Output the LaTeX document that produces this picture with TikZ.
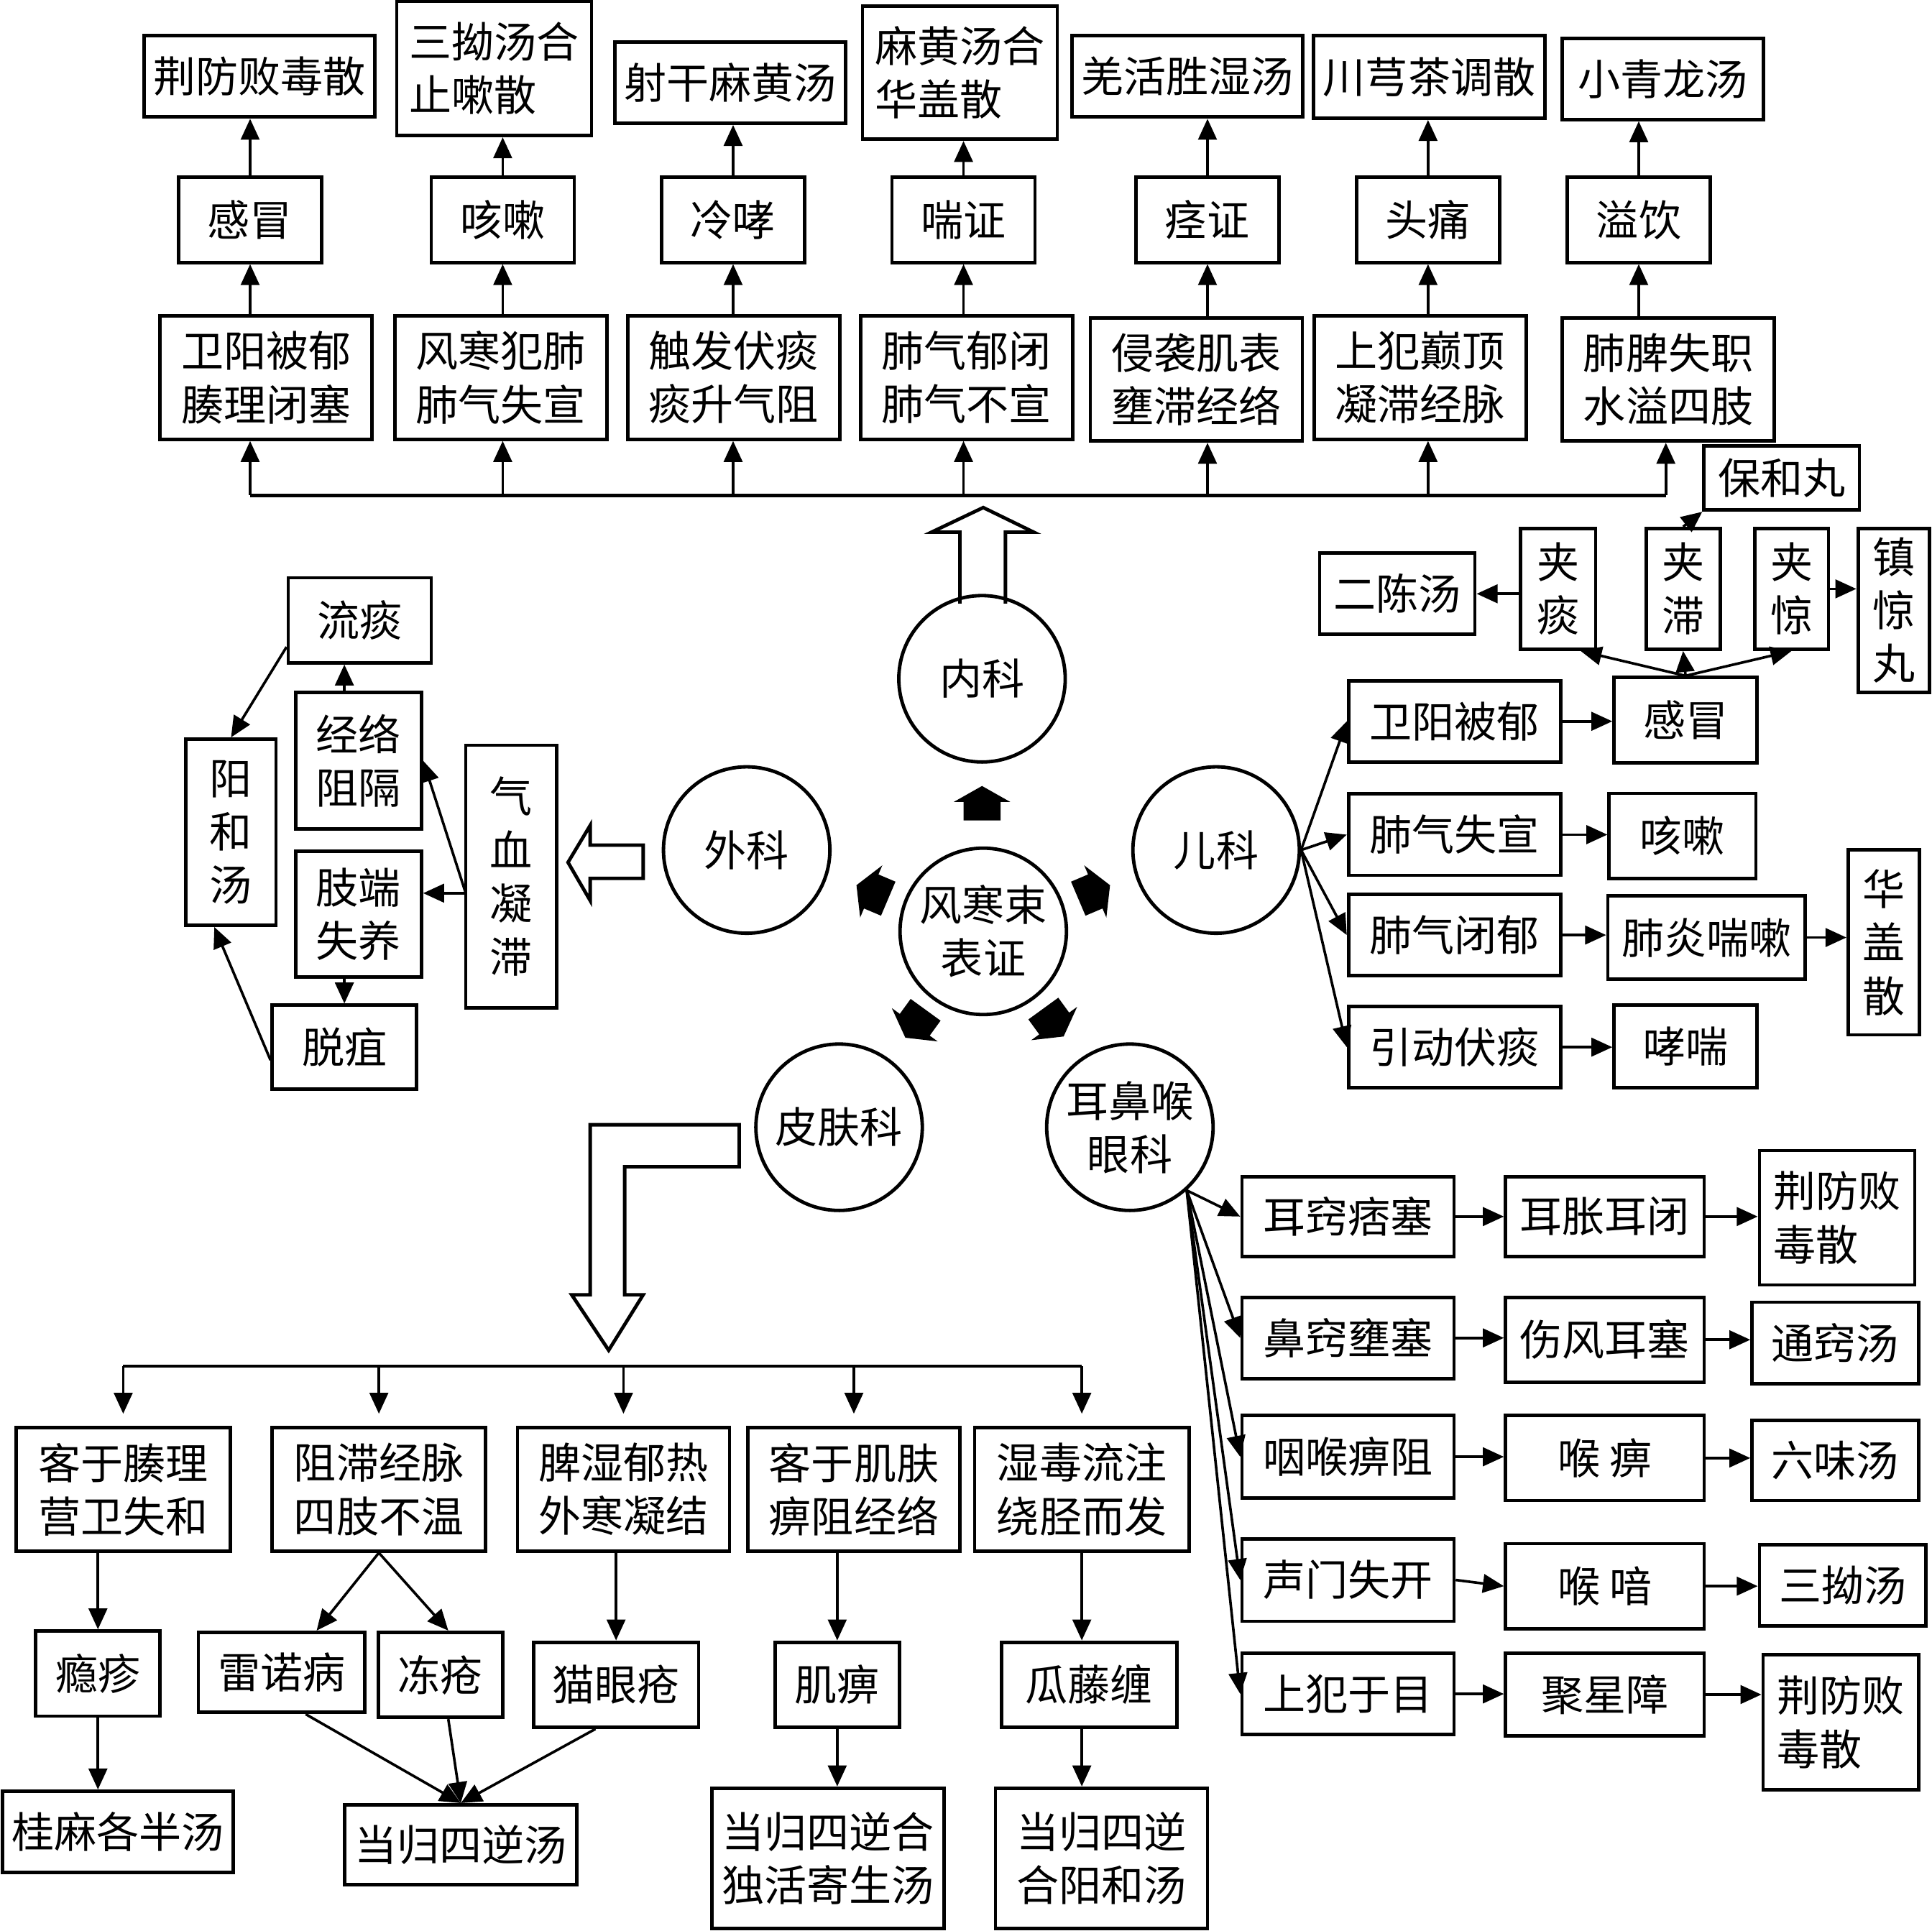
\documentclass[tikz,border=0pt]{standalone}
\usepackage{fontspec}
\setmainfont{Noto Sans CJK SC}
\usetikzlibrary{arrows.meta}

\newcommand{\housearrow}[3]{\fill[shift={(#1,#2)},rotate=#3] (-14,-15) -- (1,-15) -- (1,-23) -- (14,0) -- (1,23) -- (1,15) -- (-14,15) -- cycle;}

\begin{document}
\begin{tikzpicture}[x=0.01cm, y=-0.01cm, >={Triangle[length=1.7mm, width=1.5mm]}]
        \tikzstyle{every node}=[font=\fontsize{9.8}{12.3}\selectfont, inner sep=0pt, align=center]
        \tikzstyle{box}=[draw, line width=0.8pt]
        \tikzstyle{duo}=[box, minimum width=11.6mm, minimum height=6.9mm]
        \tikzstyle{big}=[box, minimum width=17.2mm, minimum height=10mm]
        \tikzstyle{row}=[box, minimum width=17.2mm, minimum height=6.6mm]
        \tikzstyle{ke}=[draw, circle, line width=0.8pt, minimum size=13.5mm]
        \tikzstyle{arr}=[->, line width=0.6pt]
        \tikzstyle{hollow}=[draw, fill=white, line width=0.8pt]
        \tikzset{wd/.style={minimum width=#1mm}, ht/.style={minimum height=#1mm}}
        \useasboundingbox (0,0) rectangle (1568,1567);

        \node[box, wd=18.7, ht=6.6] (f1) at (210.5,62) {荆防败毒散};
        \node[box, wd=15.8, ht=10.9, align=left] (f2) at (401,55.5) {三拗汤合\\止嗽散};
        \node[box, wd=18.7, ht=6.6] (f3) at (592.5,67) {射干麻黄汤};
        \node[box, wd=15.8, ht=10.8, align=left] (f4) at (779,59) {麻黄汤合\\华盖散};
        \node[box, wd=18.7, ht=6.6] (f5) at (963.5,62) {羌活胜湿汤};
        \node[box, wd=18.8, ht=6.7] (f6) at (1160,62.5) {川芎茶调散};
        \node[box, wd=16.3, ht=6.6] (f7) at (1349.5,64) {小青龙汤};

        \node[duo] (d1) at (203,178.5) {感冒};
        \node[duo] (d2) at (408,178.5) {咳嗽};
        \node[duo] (d3) at (595,178.5) {冷哮};
        \node[duo] (d4) at (782,178.5) {喘证};
        \node[duo] (d5) at (980,178.5) {痉证};
        \node[duo] (d6) at (1159,178.5) {头痛};
        \node[duo] (d7) at (1330,178.5) {溢饮};

        \node[big] (b1) at (216,306.5) {卫阳被郁\\腠理闭塞};
        \node[big] (b2) at (406.5,306.5) {风寒犯肺\\肺气失宣};
        \node[big] (b3) at (595.5,306.5) {触发伏痰\\痰升气阻};
        \node[big] (b4) at (784.5,306.5) {肺气郁闭\\肺气不宣};
        \node[big] (b5) at (971,308) {侵袭肌表\\壅滞经络};
        \node[big] (b6) at (1152.5,306.5) {上犯巅顶\\凝滞经脉};
        \node[big] (b7) at (1354,308) {肺脾失职\\水溢四肢};

        \coordinate (busL) at (203,402);
        \coordinate (busR) at (1352,402);
        \draw[line width=0.8pt] (busL) -- (busR);
        \draw[arr] (busL) -- (b1.south -| busL);
        \foreach \i in {2,...,6} \draw[arr] (d\i |- busL) -- (d\i |- b\i.south);
        \draw[arr] (busR) -- (b7.south -| busR);
        \foreach \i in {1,...,7} {
            \draw[arr] (b\i.north -| d\i) -- (d\i.south);
            \draw[arr] (d\i.north) -- (d\i |- f\i.south);
        }

        \draw[hollow] (779,490) -- (779,432) -- (756,432) -- (798,412) -- (839,432) -- (816,432) -- (816,490);

        \node[ke] (nei) at (797,551) {内科};
        \node[ke] (wai) at (606,690) {外科};
        \node[ke] (er) at (987,690) {儿科};
        \node[ke] (zheng) at (798,756) {风寒束\\表证};
        \node[ke] (pifu) at (681,915) {皮肤科};
        \node[ke] (yan) at (917,915) {耳鼻喉\\眼科};

        \housearrow{797}{652}{90}
        \housearrow{708}{724}{157}
        \housearrow{888}{724}{23}
        \housearrow{743}{831}{-126}
        \housearrow{855}{830}{-54}

        \node[row] (k1) at (1180.5,585.5) {卫阳被郁};
        \node[duo] (k2) at (1368,584.5) {感冒};
        \node[row] (k3) at (1180.5,677.5) {肺气失宣};
        \node[duo, wd=11.9] (k4) at (1365.5,678.5) {咳嗽};
        \node[row] (k5) at (1180.5,759) {肺气闭郁};
        \node[box, wd=16, ht=6.8] (k6) at (1385,761) {肺炎喘嗽};
        \node[box, wd=5.8, ht=15] (k7) at (1529,765) {华\\盖\\散};
        \node[row] (k8) at (1180.5,850) {引动伏痰};
        \node[duo, ht=6.7] (k9) at (1368,849.5) {哮喘};
        \node[box, wd=6.1, ht=9.8] (j1) at (1264.5,478) {夹\\痰};
        \node[box, wd=6, ht=9.8] (j2) at (1366,478) {夹\\滞};
        \node[box, wd=6, ht=9.8] (j3) at (1454,478) {夹\\惊};
        \node[box, wd=12.6, ht=6.6] (k10) at (1134,482) {二陈汤};
        \node[box, wd=12.6, ht=5.2] (k11) at (1446,388) {保和丸};
        \node[box, wd=5.8, ht=13.3] (k12) at (1537,495.5) {镇\\惊\\丸};

        \foreach \k in {k1,k3,k5,k8} \draw[arr] (er.east) -- (\k.west);
        \draw[arr] (k1.east) -- (k1.east -| k2.west);
        \draw[arr] (k3.east) -- (k3.east -| k4.west);
        \draw[arr] (k5.east) -- (k5.east -| k6.west);
        \draw[arr] (k6.east) -- (k6.east -| k7.west);
        \draw[arr] (k8.east) -- (k8.east -| k9.west);
        \draw[arr] (k2.north) -- (j1.-70);
        \draw[arr] (k2.north) -- (j2.south);
        \draw[arr] (k2.north) -- (j3.south);
        \draw[arr] (j1.west |- k10) -- (k10.east);
        \draw[arr] (j2.north) -- (k11.south west);
        \draw[arr] (j3.east) -- (j3.east -| k12.west);

        \draw[hollow] (522,686) -- (479,686) -- (479,670) -- (461,700) -- (479,731) -- (479,713) -- (522,713) -- cycle;
        \node[duo] (w1) at (292,503.5) {流痰};
        \node[box, wd=10.2, ht=11.1] (w2) at (291,617.5) {经络\\阻隔};
        \node[box, wd=10.2, ht=10.2] (w3) at (291,742) {肢端\\失养};
        \node[box, wd=11.7, ht=6.8] (w4) at (279.5,850) {脱疽};
        \node[box, wd=7.3, ht=15.1] (w5) at (187.5,675.5) {阳\\和\\汤};
        \node[box, wd=7.4, ht=21.3] (w6) at (415,711.5) {气\\血\\凝\\滞};
        \coordinate (qx) at (378,725);
        \draw[arr] (w2.north -| w4) -- (w1.south -| w4);
        \draw[arr] (w1.-160) -- (w5.north);
        \draw[arr] (qx) -- (w2.east);
        \draw[arr] (qx) -- (qx -| w3.east);
        \draw[arr] (w3.south -| w4) -- (w4.north);
        \draw[arr] (w4.-170) -- (w5.-100);

        \draw[hollow] (600,913) -- (479,913) -- (479,1051) -- (464,1051) -- (494,1096) -- (522,1051) -- (507,1051) -- (507,947) -- (600,947) -- cycle;
        \node[big, wd=17.4] (p1) at (100,1209) {客于腠理\\营卫失和};
        \node[big, wd=17.3] (p2) at (307.5,1209) {阻滞经脉\\四肢不温};
        \node[big] (p3) at (506,1209) {脾湿郁热\\外寒凝结};
        \node[big] (p4) at (693,1209) {客于肌肤\\痹阻经络};
        \node[big, wd=17.4] (p5) at (878,1209) {湿毒流注\\绕胫而发};
        \node[box, wd=10.1, ht=6.9] (q1) at (79.5,1358.5) {瘾疹};
        \node[box, wd=13.5, ht=6.5] (q2) at (228.5,1357.5) {雷诺病};
        \node[box, wd=10.1, ht=6.9] (q3) at (357.5,1359.5) {冻疮};
        \node[box, wd=13.4, ht=6.9] (q4) at (500,1367.5) {猫眼疮};
        \node[box, wd=10.1, ht=6.9] (q5) at (679.5,1367.5) {肌痹};
        \node[box, wd=14.2, ht=6.9] (q6) at (884,1367.5) {瓜藤缠};
        \node[box, wd=18.7, ht=6.6] (r1) at (95.5,1487) {桂麻各半汤};
        \node[box, wd=18.8, ht=6.5] (r2) at (374,1497.5) {当归四逆汤};
        \node[box, wd=18.8, ht=11.4] (r3) at (672,1508.5) {当归四逆合\\独活寄生汤};
        \node[box, wd=17.2, ht=11.4] (r4) at (894,1508.5) {当归四逆\\合阳和汤};

        \coordinate (pbus) at (0,1109);
        \draw[line width=0.6pt] (p1.north |- pbus) -- (p5.north |- pbus);
        \foreach \i in {1,...,5} \draw[arr, shorten >=1mm] (p\i.north |- pbus) -- (p\i.north);
        \draw[arr] (p1.south -| q1) -- (q1.north);
        \draw[arr] (q1.south) -- (q1.south |- r1.north);
        \draw[arr] (p2.south) -- (q2.50);
        \draw[arr] (p2.south) -- (q3.80);
        \draw[arr] (p3.south -| q4) -- (q4.north);
        \draw[arr] (p4.south -| q5) -- (q5.north);
        \draw[arr] (p5.south) -- (p5.south |- q6.north);
        \draw[arr] (q2.-60) -- (r2.north);
        \draw[arr] (q3.-80) -- (r2.north);
        \draw[arr] (q4.-115) -- (r2.north);
        \draw[arr] (q5.south) -- (q5.south |- r3.north);
        \draw[arr] (q6.south -| p5) -- (p5 |- r4.north);

        \node[row, ht=6.5] (e1) at (1094,987.5) {耳窍痞塞};
        \node[box, wd=16.1, ht=6.5] (e2) at (1302.5,987.5) {耳胀耳闭};
        \node[box, wd=12.6, ht=10.9, align=left] (e3) at (1491,988.5) {荆防败\\毒散};
        \node[row] (e4) at (1094,1086) {鼻窍壅塞};
        \node[box, wd=16.1, ht=6.9] (e5) at (1302.5,1087.5) {伤风耳塞};
        \node[box, wd=13.5, ht=6.6] (e6) at (1489.5,1090) {通窍汤};
        \node[row, ht=6.7] (e7) at (1094,1182.5) {咽喉痹阻};
        \node[box, wd=16.1, ht=6.9] (e8) at (1302.5,1183.5) {喉 痹};
        \node[box, wd=13.5, ht=6.5] (e9) at (1489.5,1185.5) {六味汤};
        \node[row, ht=6.7] (e10) at (1094,1282.5) {声门失开};
        \node[box, wd=16.1, ht=6.9] (e11) at (1302.5,1287.5) {喉 喑};
        \node[box, wd=13.5, ht=6.6] (e12) at (1495.5,1287) {三拗汤};
        \node[row] (e13) at (1094,1375) {上犯于目};
        \node[box, wd=16.1, ht=6.7] (e14) at (1302.5,1375.5) {聚星障};
        \node[box, wd=12.6, ht=11, align=left] (e15) at (1494,1398) {荆防败\\毒散};

        \foreach \e in {e1,e4,e7,e10,e13} \draw[arr] (yan.-48) -- (\e.west);
        \foreach \a/\b in {e1/e2,e2/e3,e4/e5,e5/e6,e7/e8,e8/e9,e11/e12,e13/e14,e14/e15} \draw[arr] (\a.east) -- (\a.east -| \b.west);
        \draw[arr] (e10.east) -- (e11.west);
    \end{tikzpicture}
\end{document}
